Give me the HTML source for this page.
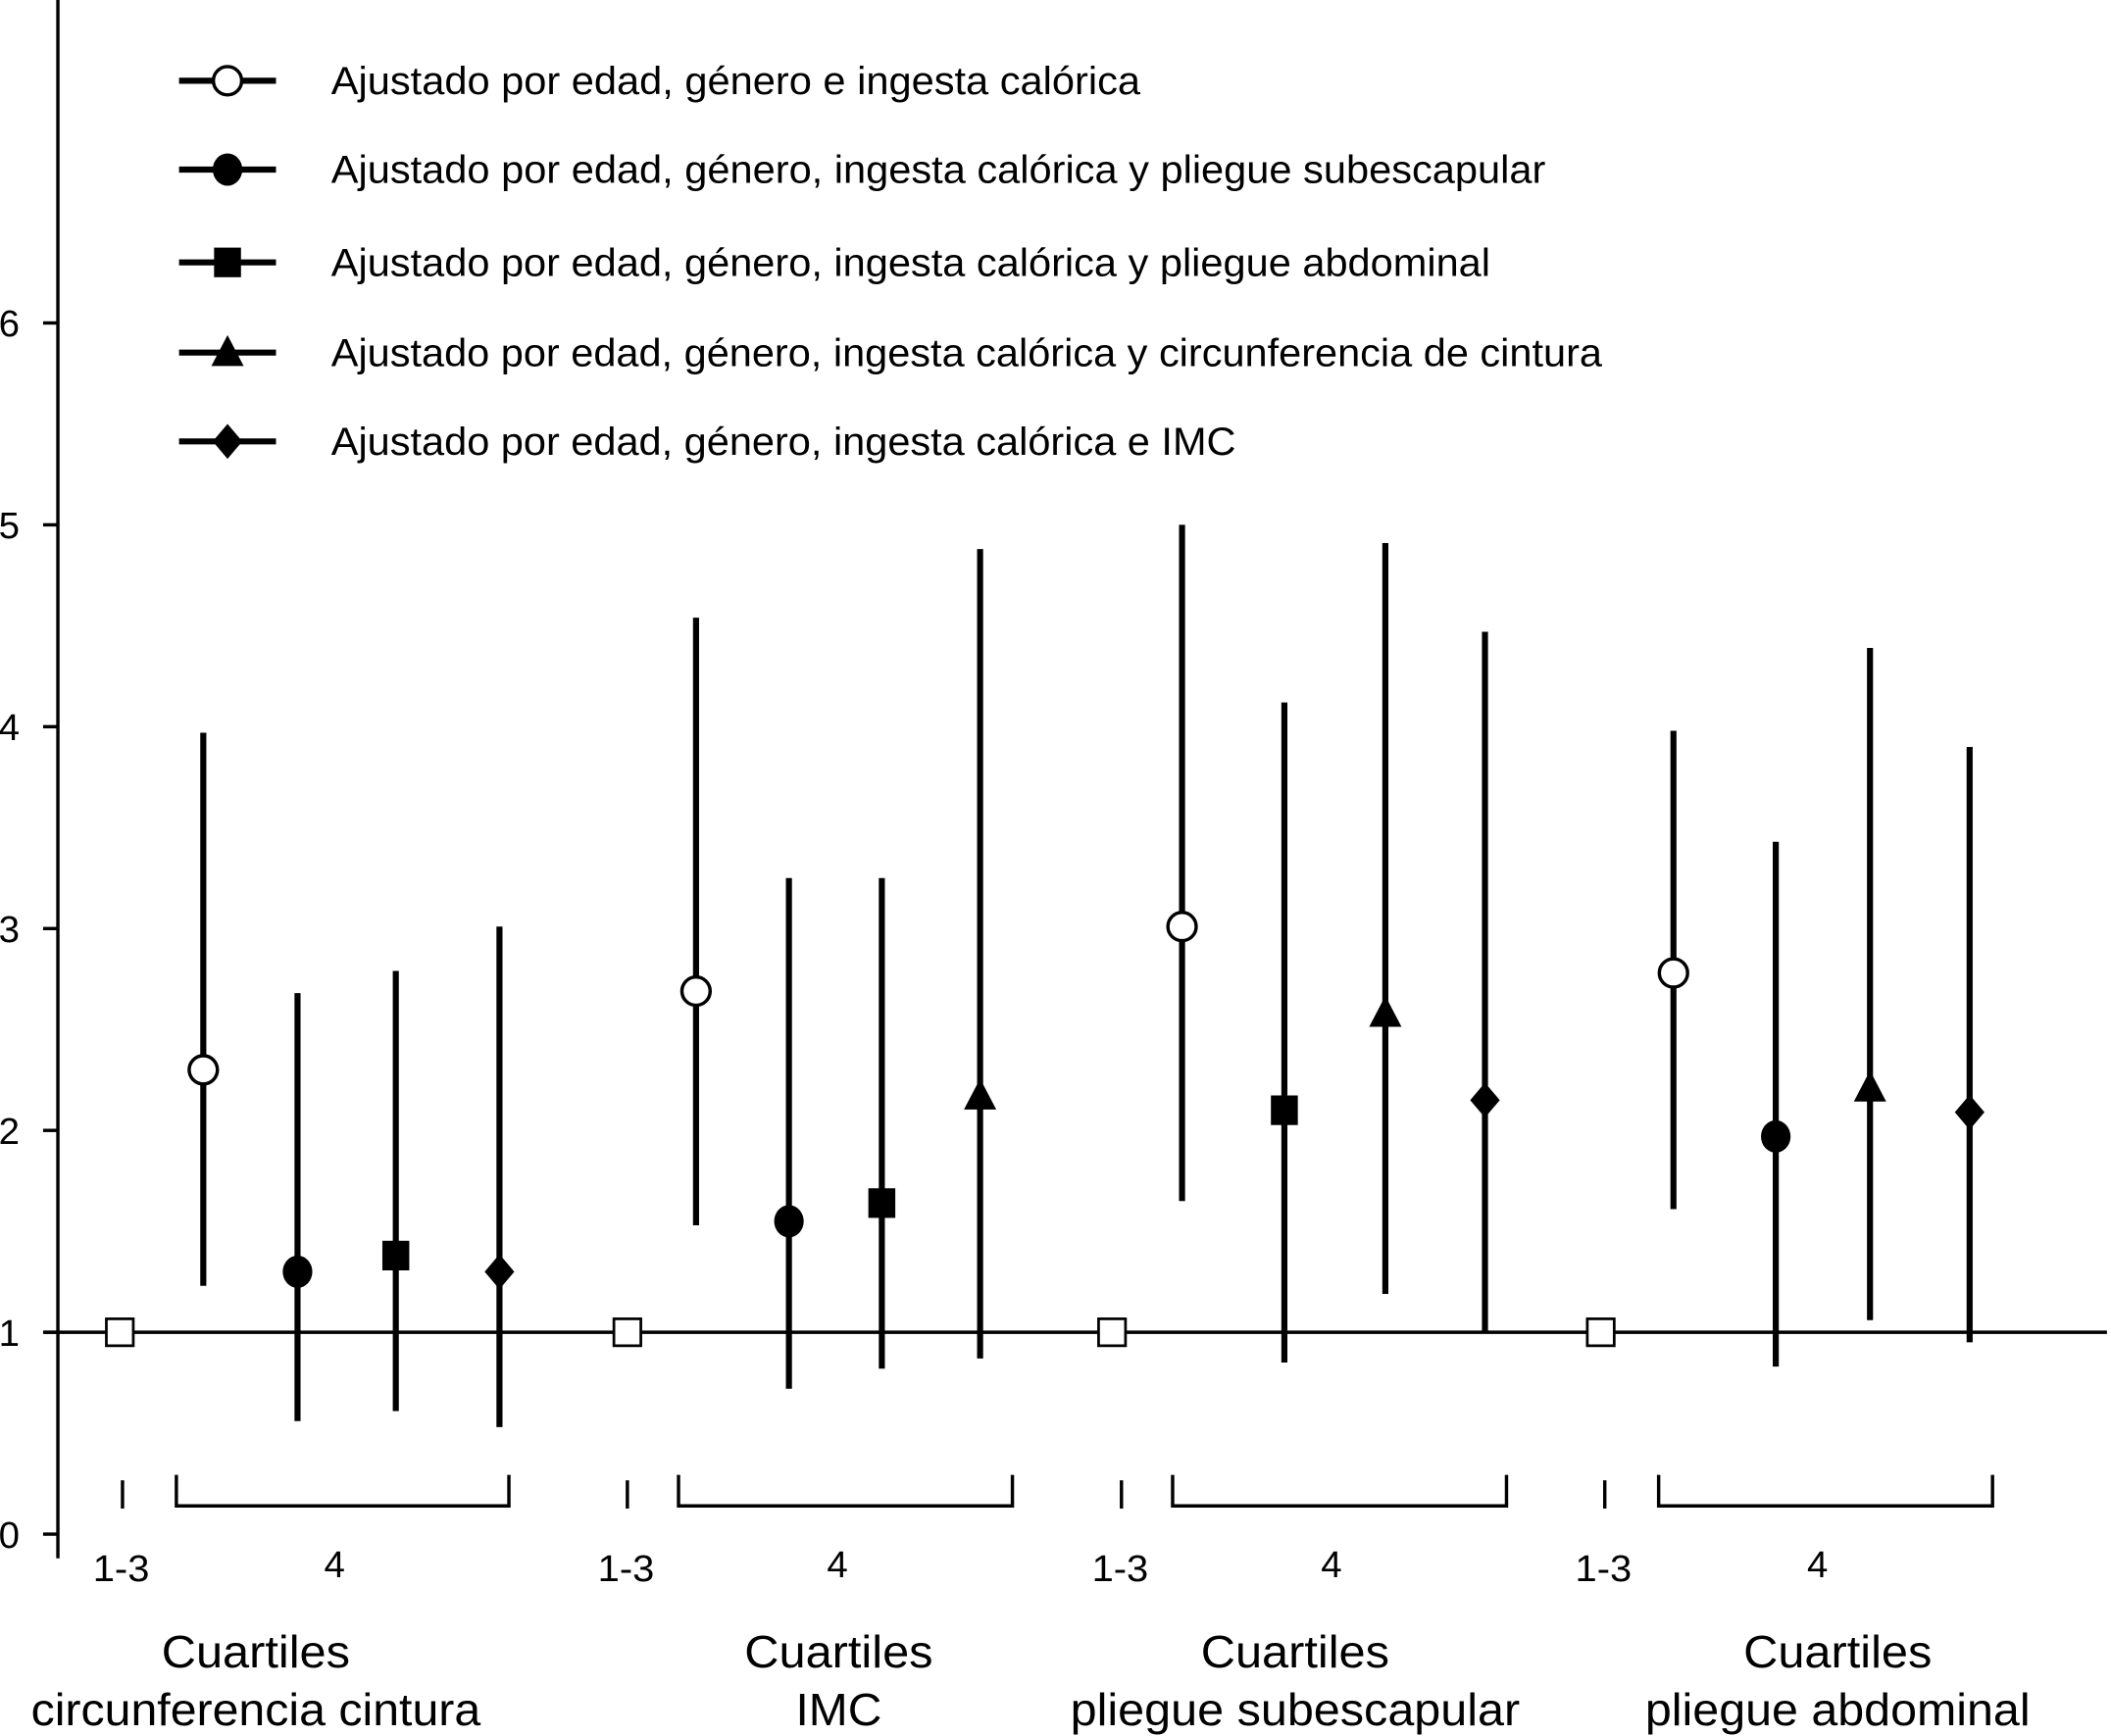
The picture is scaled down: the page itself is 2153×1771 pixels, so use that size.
<!DOCTYPE html>
<html><head><meta charset="utf-8"><style>
html,body{margin:0;padding:0;background:#fff;}
svg{display:block;}
text{font-family:"Liberation Sans",sans-serif;fill:#000;}
</style></head>
<body>
<svg id="chart" width="2153" height="1771" viewBox="0 0 1568 1290" preserveAspectRatio="none" xmlns="http://www.w3.org/2000/svg">
<g id="axes"></g>
<g id="legend"></g>
<g id="marks"></g>
</svg>
<script>
const yTicks = [0,1,2,3,4,5,6];
const groupTitles1 = ["Cuartiles","Cuartiles","Cuartiles","Cuartiles"];
const groupTitles2 = ["circunferencia cintura","IMC","pliegue subescapular","pliegue abdominal"];
const legendLabels = ["Ajustado por edad, género e ingesta calórica","Ajustado por edad, género, ingesta calórica y pliegue subescapular","Ajustado por edad, género, ingesta calórica y pliegue abdominal","Ajustado por edad, género, ingesta calórica y circunferencia de cintura","Ajustado por edad, género, ingesta calórica e IMC"];
const legendShapes = ["open","circle","square","triangle","diamond"];
// order: open, circle, square, triangle, diamond (null = absent)
const pointEst = [[2.30,1.30,1.38,null,1.30],[2.69,1.55,1.64,2.17,null],[3.01,null,2.10,2.58,2.15],[2.78,1.97,null,2.21,2.09]];
const lowerCI = [[1.23,0.56,0.61,null,0.53],[1.53,0.72,0.82,0.87,null],[1.65,null,0.85,1.19,1.00],[1.61,0.83,null,1.06,0.95]];
const upperCI = [[3.97,2.68,2.79,null,3.01],[4.54,3.25,3.25,4.88,null],[5.00,null,4.12,4.91,4.47],[3.98,3.43,null,4.39,3.90]];
const refValue = 1;

const NS="http://www.w3.org/2000/svg";
function el(tag,attrs,parent,txt){const e=document.createElementNS(NS,tag);for(const k in attrs)e.setAttribute(k,attrs[k]);if(txt!==undefined)e.textContent=txt;parent.appendChild(e);return e;}
const y = v => 1140 - 150*v;
const bracket = [[131,378],[504,752],[871,1119],[1232,1480]];
const tickX=[91,466,833,1192], labC=[190,623,962,1365];
const t1W=[140,140,140,140], t2W=[334,64,334,286];
const legW=[601,902,861,944,672];
const axes=document.getElementById('axes'), legend=document.getElementById('legend'), marks=document.getElementById('marks');

let a=el('line',{x1:43,y1:0,x2:43,y2:1158,stroke:'#000','stroke-width':2.5},axes);

yTicks.forEach(t=>{
  let l=el('line',{x1:32,y1:y(t),x2:43,y2:y(t),stroke:'#000','stroke-width':2.5},axes);
  
  let tx=el('text',{x:-1,y:y(t)+10,'font-size':28},axes,String(t));
  
});
let rl=el('line',{x1:33,y1:y(refValue),x2:1565,y2:y(refValue),stroke:'#000','stroke-width':2.5},axes);


for(let g=0;g<4;g++){
  let tk=el('line',{x1:tickX[g],y1:1100,x2:tickX[g],y2:1121,stroke:'#000','stroke-width':2.5},axes);
  
  const [b0,b1]=bracket[g];
  let br=el('path',{d:`M${b0},1096 V1119 H${b1} V1096`,fill:'none',stroke:'#000','stroke-width':2.5},axes);
  
  let t1=el('text',{x:tickX[g]-1,y:1175,'font-size':28,'text-anchor':'middle',textLength:42,lengthAdjust:'spacingAndGlyphs'},axes,'1-3');
  
  let t4=el('text',{x:(b0+b1)/2-6,y:1172,'font-size':28,'text-anchor':'middle'},axes,'4');
  
  let gt=el('text',{x:labC[g],y:1239,'font-size':34,'text-anchor':'middle',textLength:t1W[g],lengthAdjust:'spacingAndGlyphs'},axes,groupTitles1[g]);
  
  let gt2=el('text',{x:labC[g],y:1282,'font-size':34,'text-anchor':'middle',textLength:t2W[g],lengthAdjust:'spacingAndGlyphs'},axes,groupTitles2[g]);
  
}

function marker(shape,cx,cy,parent){
  let m;
  if(shape==='open') m=el('circle',{cx:cx,cy:cy,r:10.5,fill:'#fff',stroke:'#000','stroke-width':2.5},parent);
  else if(shape==='circle') m=el('ellipse',{cx:cx,cy:cy,rx:11,ry:12,fill:'#000'},parent);
  else if(shape==='square') m=el('rect',{x:cx-10,y:cy-11,width:20,height:22,fill:'#000'},parent);
  else if(shape==='triangle') m=el('polygon',{points:`${cx},${cy-13} ${cx+12},${cy+10} ${cx-12},${cy+10}`,fill:'#000'},parent);
  else m=el('polygon',{points:`${cx},${cy-13} ${cx+11},${cy} ${cx},${cy+13} ${cx-11},${cy}`,fill:'#000'},parent);
  return m;
}
const fixedX=[[151,221,294,0,371],[517,586,655,728,0],[878,0,954,1029,1103],[1243,1319,0,1389,1463]];
const refX = [89,466,826,1189];
for(let g=0;g<4;g++){
  for(let s=0;s<5;s++){
    const p=pointEst[g][s]; if(p===null) continue;
    const cx=fixedX[g][s];
    let bar=el('line',{x1:cx,y1:y(lowerCI[g][s]),x2:cx,y2:y(upperCI[g][s]),stroke:'#000','stroke-width':4.5},marks);
    
    let m=marker(legendShapes[s],cx,y(p),marks);
    
  }
  let rs=el('rect',{x:refX[g]-10,y:y(refValue)-10,width:20,height:20,fill:'#fff',stroke:'#000','stroke-width':2},marks);
  
}
const legY=[60,126,195,262,328];
legendLabels.forEach((lab,i)=>{
  const g=el('g',{},legend);
  
  el('line',{x1:133,y1:legY[i],x2:205,y2:legY[i],stroke:'#000','stroke-width':4.5},g);
  marker(legendShapes[i],169,legY[i],g);
  el('text',{x:246,y:legY[i]+10,'font-size':29,textLength:legW[i],lengthAdjust:'spacingAndGlyphs'},g,lab);
});
</script>
</body></html>
